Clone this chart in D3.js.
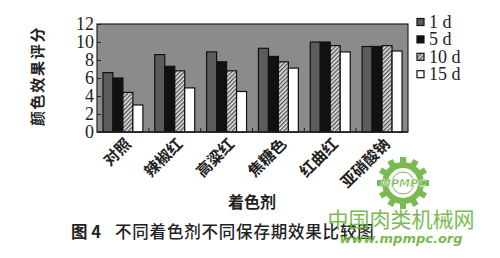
<!DOCTYPE html>
<html>
<head>
<meta charset="utf-8">
<script src="https://cdn.jsdelivr.net/npm/d3@7"></script>
<style>
  html, body { margin: 0; padding: 0; background: #fff; }
  svg { display: block; }
  .serif { font-family: 'Liberation Serif', 'DejaVu Serif', serif; }
  .cjk { font-family: 'Noto Sans CJK SC', sans-serif; }
</style>
</head>
<body>
<div id="chart"></div>
<script>
const categories = ['对照', '辣椒红', '高粱红', '焦糖色', '红曲红', '亚硝酸钠'];
const seriesNames = ['1 d', '5 d', '10 d', '15 d'];
const values1d = [6.6, 8.6, 8.9, 9.3, 10.0, 9.5];
const values5d = [6.0, 7.3, 7.8, 8.4, 10.0, 9.5];
const values10d = [4.4, 6.8, 6.8, 7.8, 9.6, 9.6];
const values15d = [3.0, 4.9, 4.5, 7.1, 8.9, 9.0];
const yTicks = [0, 2, 4, 6, 8, 10, 12];

const seriesValues = [values1d, values5d, values10d, values15d];
const fills = ['#5c5c5c', '#111', 'url(#hatch)', '#fff'];

const width = 500;
const height = 258;
const margin = { top: 24, right: 92, bottom: 126, left: 97 };
const innerWidth = width - margin.left - margin.right;
const innerHeight = height - margin.top - margin.bottom;

const svg = d3.select('#chart')
  .append('svg')
  .attr('width', width)
  .attr('height', height);

const defs = svg.append('defs');
const hatch = defs.append('pattern')
  .attr('id', 'hatch')
  .attr('patternUnits', 'userSpaceOnUse')
  .attr('width', 3)
  .attr('height', 3)
  .attr('patternTransform', 'rotate(45)');
hatch.append('rect').attr('width', 3).attr('height', 3).attr('fill', '#e8e8e8');
hatch.append('rect').attr('width', 1.4).attr('height', 3).attr('fill', '#555');

const chart = svg.append('g')
  .attr('transform', `translate(${margin.left},${margin.top})`);

const x = d3.scaleBand()
  .domain(categories)
  .range([0, innerWidth])
  .paddingInner(0.23)
  .paddingOuter(0.115);

const xSub = d3.scaleBand()
  .domain(seriesNames)
  .range([0, x.bandwidth()])
  .padding(0);

const y = d3.scaleLinear()
  .domain([0, 12])
  .range([innerHeight, 0]);

chart.append('rect')
  .attr('width', innerWidth)
  .attr('height', innerHeight)
  .attr('fill', '#8b8b8b')
  .attr('stroke', '#222')
  .attr('stroke-width', 1.2);

// inward y ticks
chart.append('g')
  .call(d3.axisRight(y).tickValues(yTicks).tickSize(4).tickFormat(''))
  .call((g) => g.select('.domain').remove())
  .selectAll('line')
  .attr('stroke', '#222');

chart.append('g')
  .attr('font-size', 18)
  .attr('fill', '#222')
  .selectAll('text')
  .data(yTicks)
  .enter()
  .append('text')
  .attr('class', 'serif')
  .attr('x', -3)
  .attr('y', (d) => y(d))
  .attr('dy', '0.33em')
  .attr('text-anchor', 'end')
  .text((d) => d);

// category boundary ticks along the bottom
const step = x.step();
const boundaries = d3.range(1, categories.length).map((i) => x(categories[i]) - (step - x.bandwidth()) / 2);
chart.append('g')
  .selectAll('line')
  .data(boundaries)
  .enter()
  .append('line')
  .attr('x1', (d) => d)
  .attr('x2', (d) => d)
  .attr('y1', innerHeight)
  .attr('y2', innerHeight - 4)
  .attr('stroke', '#222');

const groups = chart.selectAll('.group')
  .data(categories)
  .enter()
  .append('g')
  .attr('transform', (c) => `translate(${x(c)},0)`);

groups.selectAll('rect')
  .data((c, i) => seriesNames.map((s, j) => ({ s, j, v: seriesValues[j][i] })))
  .enter()
  .append('rect')
  .attr('x', (d) => xSub(d.s))
  .attr('y', (d) => y(d.v))
  .attr('width', xSub.bandwidth())
  .attr('height', (d) => innerHeight - y(d.v))
  .attr('fill', (d) => fills[d.j])
  .attr('stroke', '#111')
  .attr('stroke-width', 1.2);

// bottom axis line
chart.append('line')
  .attr('x1', 0)
  .attr('x2', innerWidth)
  .attr('y1', innerHeight)
  .attr('y2', innerHeight)
  .attr('stroke', '#222')
  .attr('stroke-width', 1.5);

// rotated category labels
chart.append('g')
  .selectAll('text')
  .data(categories)
  .enter()
  .append('text')
  .attr('class', 'cjk')
  .attr('transform', (c) => `translate(${x(c) + x.bandwidth() / 2 + 9},${innerHeight + 13}) rotate(-45)`)
  .attr('text-anchor', 'end')
  .attr('font-weight', 'bold')
  .attr('font-size', 15.5)
  .attr('fill', '#222')
  .text((c) => c);

// y title
svg.append('text')
  .attr('class', 'cjk')
  .attr('transform', 'translate(38,76) rotate(-90)')
  .attr('text-anchor', 'middle')
  .attr('dy', '0.35em')
  .attr('font-weight', 'bold')
  .attr('font-size', 15)
  .attr('letter-spacing', 1.7)
  .attr('fill', '#222')
  .text('颜色效果评分');

// x title
svg.append('text')
  .attr('class', 'cjk')
  .attr('x', 252)
  .attr('y', 202)
  .attr('dy', '0.35em')
  .attr('text-anchor', 'middle')
  .attr('font-weight', 'bold')
  .attr('font-size', 16)
  .attr('fill', '#222')
  .text('着色剂');

// caption
const caption = svg.append('text')
  .attr('class', 'cjk')
  .attr('x', 71)
  .attr('y', 232)
  .attr('dy', '0.35em')
  .attr('font-size', 16.5)
  .attr('font-weight', 500)
  .attr('fill', '#222');
caption.append('tspan').attr('font-weight', 'bold').text('图 4');
caption.append('tspan').attr('dx', 14).attr('letter-spacing', 0.8).text('不同着色剂不同保存期效果比较图');

// legend
const legend = svg.append('g')
  .attr('transform', 'translate(417,22)');
const legendRows = legend.selectAll('g')
  .data(seriesNames)
  .enter()
  .append('g')
  .attr('transform', (d, i) => `translate(0,${i * 17.4})`);
legendRows.append('rect')
  .attr('x', 0)
  .attr('y', -3.5)
  .attr('width', 7)
  .attr('height', 7)
  .attr('fill', (d, i) => fills[i])
  .attr('stroke', '#111')
  .attr('stroke-width', 1.2);
legendRows.append('text')
  .attr('class', 'serif')
  .attr('x', 12)
  .attr('dy', '0.33em')
  .attr('font-size', 18)
  .attr('fill', '#222')
  .text((d) => d);

// watermark
const green = '#6cb33f';
const logo = svg.append('g')
  .attr('transform', 'translate(403,183)')
  .attr('opacity', 0.9);
const teeth = d3.range(12).map((i) => i * 30);
logo.selectAll('rect')
  .data(teeth)
  .enter()
  .append('rect')
  .attr('x', -3)
  .attr('y', -26)
  .attr('width', 6)
  .attr('height', 7)
  .attr('fill', green)
  .attr('transform', (d) => `rotate(${d})`);
logo.append('circle').attr('r', 21).attr('fill', green);
logo.append('circle').attr('r', 15).attr('fill', '#fff');
logo.append('circle').attr('r', 11).attr('fill', 'none').attr('stroke', green).attr('stroke-width', 1);
logo.append('text')
  .attr('text-anchor', 'middle')
  .attr('dy', '0.35em')
  .attr('font-family', 'DejaVu Sans, sans-serif')
  .attr('font-style', 'italic')
  .attr('font-weight', 'bold')
  .attr('font-size', 11)
  .attr('fill', green)
  .attr('stroke', '#fff')
  .attr('stroke-width', 0.4)
  .text('MPMPC');

svg.append('text')
  .attr('class', 'cjk')
  .attr('x', 401)
  .attr('y', 220)
  .attr('dy', '0.35em')
  .attr('text-anchor', 'middle')
  .attr('font-size', 21)
  .attr('fill', green)
  .attr('opacity', 0.9)
  .text('中国肉类机械网');

svg.append('text')
  .attr('x', 401)
  .attr('y', 238)
  .attr('dy', '0.35em')
  .attr('text-anchor', 'middle')
  .attr('font-family', 'DejaVu Sans, sans-serif')
  .attr('font-style', 'italic')
  .attr('font-weight', 'bold')
  .attr('font-size', 13)
  .attr('fill', green)
  .attr('opacity', 0.9)
  .text('www.mpmpc.org');
</script>
</body>
</html>
